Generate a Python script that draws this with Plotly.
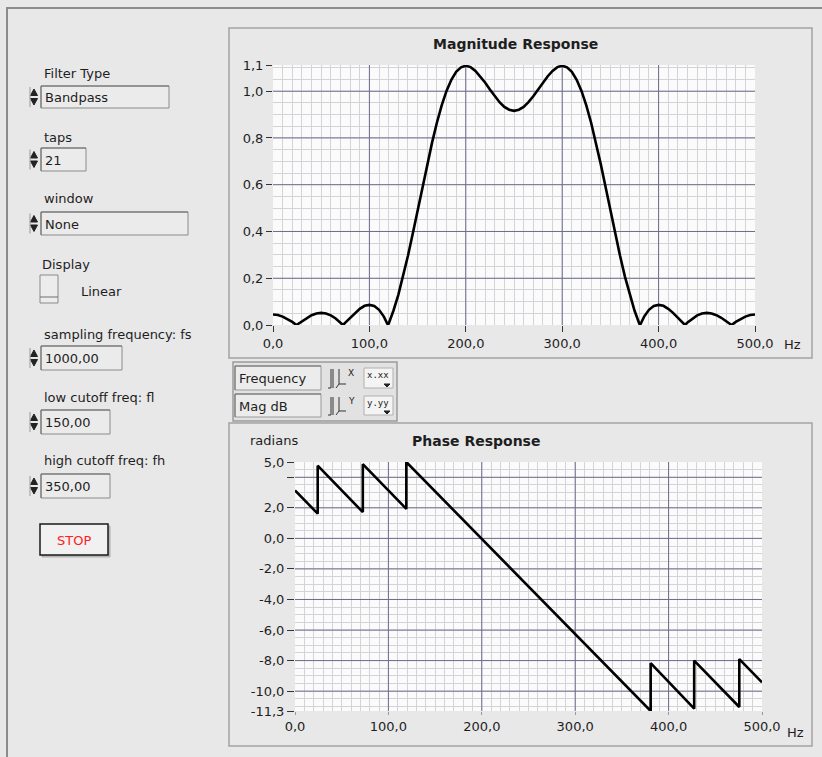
import plotly.graph_objects as go

W, H = 822, 757


def X(px):
    return px / W


def Y(py):
    return 1 - py / H


# ---------------- data ----------------
freq_hz = list(range(0, 505, 5))
magnitude = [
    0.045, 0.043, 0.036, 0.026, 0.013, 0.002, 0.017, 0.031, 0.042, 0.049,
    0.052, 0.049, 0.041, 0.028, 0.011, 0.010, 0.031, 0.052, 0.069, 0.082,
    0.086, 0.081, 0.065, 0.036, 0.006, 0.062, 0.129, 0.208, 0.296, 0.391,
    0.490, 0.590, 0.688, 0.780, 0.865, 0.939, 1.001, 1.049, 1.083, 1.102,
    1.109, 1.103, 1.087, 1.064, 1.037, 1.007, 0.978, 0.953, 0.933, 0.921,
    0.916,
    0.921, 0.933, 0.953, 0.978, 1.007, 1.037, 1.064, 1.087, 1.103, 1.109,
    1.102, 1.083, 1.049, 1.001, 0.939, 0.865, 0.780, 0.688, 0.590, 0.490,
    0.391, 0.296, 0.208, 0.129, 0.062, 0.006, 0.036, 0.065, 0.081, 0.086,
    0.082, 0.069, 0.052, 0.031, 0.010, 0.011, 0.028, 0.041, 0.049, 0.052,
    0.049, 0.042, 0.031, 0.017, 0.002, 0.013, 0.026, 0.036, 0.043, 0.045,
]
null_hz = [24.3, 72.6, 119.2, 380.8, 427.4, 475.7]
null_mag = [0.0, 0.0, 0.0, 0.0, 0.0, 0.0]

phase_hz = [0, 24.3, 24.3, 72.6, 72.6, 119.2, 119.2, 380.8, 380.8,
            427.4, 427.4, 475.7, 475.7, 500]
phase_rad = [3.14, 1.62, 4.76, 1.72, 4.86, 1.93, 5.0, -11.3, -8.17,
             -11.15, -8.0, -11.04, -7.9, -9.42]

freq_ticks = [0, 100, 200, 300, 400, 500]
mag_ticks = [0.0, 0.2, 0.4, 0.6, 0.8, 1.0, 1.109]   # top label is the data maximum, shown as 1,1
phase_ticks = [5.0, 4.0, 2.0, 0.0, -2.0, -4.0, -6.0, -8.0, -10.0, -11.3]
phase_ticktext = ["5,0", "", "2,0", "0,0", "-2,0", "-4,0", "-6,0", "-8,0",
                  "-10,0", "-11,3"]

# interior major grid positions (edges of the plot area carry no dark line)
freq_grid = [100, 200, 300, 400]
mag_grid = [0.2, 0.4, 0.6, 0.8, 1.0]
phase_grid = [4.0, 2.0, 0.0, -2.0, -4.0, -6.0, -8.0, -10.0]

MAG_RANGE = [0, 1.112]
PHASE_RANGE = [-11.3, 5.0]

# merge the null points into the magnitude trace
pts = sorted(list(zip(freq_hz, magnitude)) + list(zip(null_hz, null_mag)))
mag_x = [p[0] for p in pts]
mag_y = [p[1] for p in pts]

FONT = "DejaVu Sans"
BG = "#e8e8e9"
MAJOR = "#6c6c8c"
MINOR = "#d3d3d8"
TXT = "#1e1e1e"


def grid_segments(xs, ys, xr, yr):
    gx, gy = [], []
    for v in xs:
        gx += [v, v, None]
        gy += [yr[0], yr[1], None]
    for v in ys:
        gx += [xr[0], xr[1], None]
        gy += [v, v, None]
    return gx, gy


fig = go.Figure()
gx, gy = grid_segments(freq_grid, mag_grid, [0, 500], MAG_RANGE)
fig.add_trace(go.Scatter(x=gx, y=gy, mode="lines", xaxis="x", yaxis="y",
                         line=dict(color=MAJOR, width=1), hoverinfo="skip"))
gx, gy = grid_segments(freq_grid, phase_grid, [0, 500], PHASE_RANGE)
fig.add_trace(go.Scatter(x=gx, y=gy, mode="lines", xaxis="x2", yaxis="y2",
                         line=dict(color=MAJOR, width=1), hoverinfo="skip"))
fig.add_trace(go.Scatter(x=mag_x, y=mag_y, mode="lines", xaxis="x", yaxis="y",
                         line=dict(color="#000000", width=2.6), hoverinfo="skip"))
fig.add_trace(go.Scatter(x=phase_hz, y=phase_rad, mode="lines", xaxis="x2", yaxis="y2",
                         line=dict(color="#000000", width=2.6), hoverinfo="skip"))


def xax(dom, anchor, ticklen, tickcolor):
    return dict(domain=dom, anchor=anchor, range=[0, 500], tickmode="array",
                tickvals=freq_ticks, tickformat=".1f", ticks="outside",
                ticklen=ticklen, tickwidth=1, tickcolor=tickcolor,
                showgrid=False,
                minor=dict(tickmode="linear", tick0=0, dtick=10, showgrid=True,
                           gridcolor=MINOR, gridwidth=1, ticks=""),
                zeroline=False, showline=False, fixedrange=True,
                tickfont=dict(family=FONT, size=13, color=TXT))


fig.update_layout(
    xaxis=xax([X(273), X(755)], "y", 6, "#333333"),
    yaxis=dict(domain=[Y(325), Y(65)], anchor="x", range=MAG_RANGE,
               tickmode="array", tickvals=mag_ticks, tickformat=".1f",
               ticks="outside", ticklen=6, tickwidth=1, tickcolor="#333333",
               showgrid=False,
               minor=dict(tickmode="linear", tick0=0, dtick=0.05, showgrid=True,
                          gridcolor=MINOR, gridwidth=1, ticks=""),
               zeroline=False, showline=False, fixedrange=True,
               tickfont=dict(family=FONT, size=13, color=TXT)),
    xaxis2=xax([X(295), X(762)], "y2", 3, "#999999"),
    yaxis2=dict(domain=[Y(711), Y(462)], anchor="x2", range=PHASE_RANGE,
                tickmode="array", tickvals=phase_ticks, ticktext=phase_ticktext,
                ticks="outside", ticklen=7, tickwidth=1, tickcolor="#333333",
                showgrid=False,
                minor=dict(tickmode="linear", tick0=0, dtick=0.5, showgrid=True,
                           gridcolor=MINOR, gridwidth=1, ticks=""),
                zeroline=False, showline=False, fixedrange=True,
                tickfont=dict(family=FONT, size=13, color=TXT)),
)

shapes = []
annotations = []


def rect(x0, y0, x1, y1, line="#8e8e8e", fill="rgba(0,0,0,0)", width=1):
    shapes.append(dict(type="rect", xref="paper", yref="paper",
                       x0=X(x0), y0=Y(y1), x1=X(x1), y1=Y(y0),
                       line=dict(color=line, width=width), fillcolor=fill,
                       layer="below"))


def path(pts_px, color="#222222", width=1, fill=None, closed=False):
    d = "M " + " L ".join(f"{X(a):.5f},{Y(b):.5f}" for a, b in pts_px)
    if closed:
        d += " Z"
    s = dict(type="path", xref="paper", yref="paper", path=d,
             line=dict(color=color, width=width), layer="below")
    if fill:
        s["fillcolor"] = fill
    shapes.append(s)


def text(x, y, s, size=13, color=TXT, xanchor="left", bold=False, family=FONT):
    annotations.append(dict(xref="paper", yref="paper", x=X(x), y=Y(y),
                            text=f"<b>{s}</b>" if bold else s, showarrow=False,
                            xanchor=xanchor, yanchor="middle",
                            font=dict(family=family, size=size, color=color)))


def spinner(yc):
    path([(30.5, yc - 1.5), (37.5, yc - 1.5), (34, yc - 8)], color="#222", fill="#222", closed=True)
    path([(30.5, yc + 1.5), (37.5, yc + 1.5), (34, yc + 8)], color="#222", fill="#222", closed=True)
    path([(30, yc - 10), (30, yc + 10)], color="#999", width=1)


def textbox(x0, y0, x1, y1, label):
    rect(x0, y0, x1, y1, line="#8a8a8a", fill="#ebebeb")
    path([(x0, y1), (x0, y0), (x1, y0)], color="#6e6e6e", width=1)
    spinner((y0 + y1) / 2)
    text(x0 + 2, (y0 + y1) / 2 + 0.5, label)


# window border
path([(7, 757), (7, 8), (822, 8)], color="#8c8c8c", width=2)

# graph panels
rect(229, 28, 812, 358, line="#a3a3a3", width=1.5)
rect(229, 423, 812, 746, line="#a3a3a3", width=1.5)

# left controls
text(42, 73, "Filter Type")
textbox(41, 86, 169, 108, "Bandpass")
text(42, 137, "taps")
textbox(41, 148, 86, 171, "21")
text(42, 199, "window")
textbox(41, 212, 188, 235, "None")
text(40, 264, "Display")
rect(40, 275, 58, 303, line="#8a8a8a", fill="#ececec")
path([(40, 297), (58, 297)], color="#6e6e6e", width=1)
text(79, 292, "Linear")
text(42, 334, "sampling frequency: fs")
textbox(41, 346, 122, 370, "1000,00")
text(42, 397, "low cutoff freq: fl")
textbox(41, 410, 110, 434, "150,00")
text(42, 460, "high cutoff freq: fh")
textbox(41, 474, 110, 498, "350,00")

# STOP button
rect(42, 526, 110, 557, line="#b0b0b0", fill="#b8b8b8")
rect(40, 524, 108, 555, line="#1a1a1a", fill="#f1f1f1", width=1.5)
text(74, 540, "STOP", color="#ff2020", xanchor="center")

# axis-name legend box
rect(233, 362, 397, 421, line="#9a9a9a", fill="#e2e2e2", width=1.5)
for (yy0, yy1, lab, ax, fmt) in [(366, 390, "Frequency", "X", "x.xx"),
                                  (394, 417, "Mag dB", "Y", "y.yy")]:
    rect(235, yy0, 321, yy1, line="#9a9a9a", fill="#ececec")
    path([(235, yy1), (235, yy0), (321, yy0)], color="#6e6e6e")
    text(237, (yy0 + yy1) / 2 + 0.5, lab)
    path([(328, yy1 - 2), (331, yy1 - 2), (331, yy0 + 3)], color="#333")
    path([(333, yy1 - 2), (333, yy0 + 3)], color="#333")
    path([(336, yy1 - 2), (339, yy1 - 6), (339, yy0 + 3)], color="#333")
    path([(339, yy1 - 6), (346, yy1 - 6)], color="#333")
    text(346, yy0 + 7, ax, size=9, color="#222")
    rect(364, yy0 + 2, 393, yy1 - 2, line="#b0b0b0", fill="#f4f4f4")
    text(378, yy0 + 9, fmt, size=9, color="#222", xanchor="center",
         family="DejaVu Sans Mono")
    path([(384, yy1 - 6), (390, yy1 - 6), (387, yy1 - 3)], color="#222",
         fill="#222", closed=True)

# graph titles and labels
text(515, 44, "Magnitude Response", size=14, bold=True, xanchor="center")
text(476, 441, "Phase Response", size=14, bold=True, xanchor="center")
text(248, 441, "radians")
text(782, 344, "Hz")
text(785, 732, "Hz")

fig.update_layout(
    autosize=True,
    margin=dict(l=0, r=0, t=0, b=0, autoexpand=False),
    paper_bgcolor=BG, plot_bgcolor="#fbfbfb",
    separators=", ",
    showlegend=False,
    font=dict(family=FONT, size=13, color=TXT),
    shapes=shapes, annotations=annotations,
)

page_fix = ("document.documentElement.style.margin='0';"
            "document.documentElement.style.overflow='hidden';"
            "document.body.style.margin='0';"
            "document.body.style.padding='0';"
            "document.body.style.overflow='hidden';")

fig.write_html("out.html", default_width="100vw", default_height="100vh",
               config=dict(displayModeBar=False, staticPlot=True, responsive=True),
               post_script=page_fix)
